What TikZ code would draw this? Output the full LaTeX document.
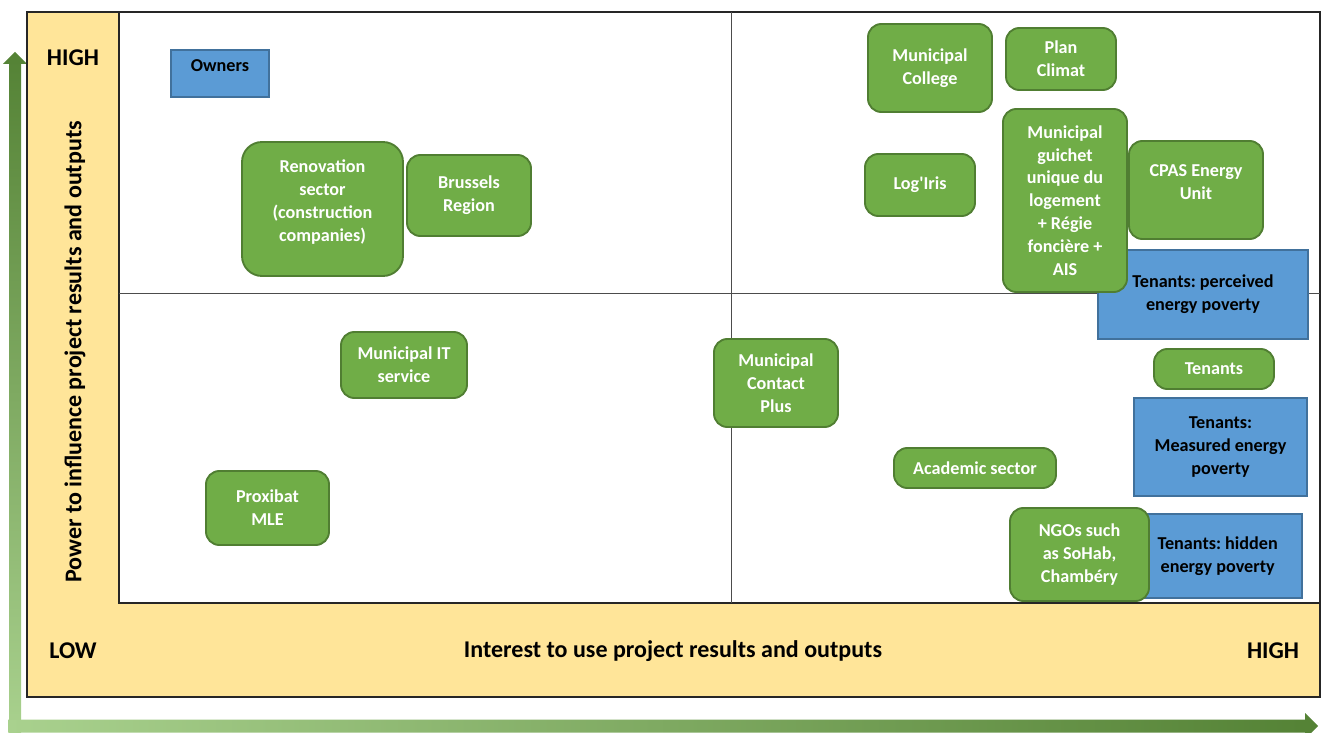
\documentclass[tikz,border=0pt]{standalone}
\usepackage{fontspec}
\setmainfont{Carlito}
\usepackage{xcolor}
\usetikzlibrary{positioning}
\frenchspacing

\definecolor{stakegreen}{HTML}{70AD47}
\definecolor{stakegreenline}{HTML}{507E32}
\definecolor{stakeblue}{HTML}{5B9BD5}
\definecolor{stakeblueline}{HTML}{41719C}
\definecolor{axisyellow}{HTML}{FFE599}
\definecolor{arrowlight}{HTML}{A9D18E}
\definecolor{arrowdark}{HTML}{548235}

\begin{document}
\begin{tikzpicture}[x=0.03cm, y=-0.03cm,
	greenbox/.style={draw=stakegreenline, line width=1.6pt, fill=stakegreen, rounded corners=0.4cm,
		text=white, align=center, inner sep=0pt, font=\fontsize{15.5}{19.5}\selectfont\bfseries},
	bluebox/.style={draw=stakeblueline, line width=1.4pt, fill=stakeblue,
		text=black, align=center, inner sep=0pt, font=\fontsize{15.5}{19.5}\selectfont\bfseries},
	axistext/.style={font=\fontsize{20.5}{24}\selectfont\bfseries, inner sep=0pt}]
		\useasboundingbox (0,0) rectangle (1335,733);
		
		% arrows
		\shade[top color=arrowdark, bottom color=arrowlight]
			(9,733) -- (9,64) -- (3,64) -- (15,52) -- (27,64) -- (21,64) -- (21,733) -- cycle;
		\shade[left color=arrowlight, right color=arrowdark]
			(8,719.5) -- (1305,719.5) -- (1305,713) -- (1318,726) -- (1305,739) -- (1305,732.5) -- (8,732.5) -- cycle;
		
		% axis frame
		\draw[fill=axisyellow, line width=0.9pt, draw=black!85] (27,12) rectangle (1320,697);
		\draw[fill=white, line width=0.9pt, draw=black!85] (119,12) rectangle (1320,603);
		\draw[black!70, line width=0.6pt] (731,12) -- (731,603);
		\draw[black!70, line width=0.6pt] (119,293) -- (1320,293);
		
		\node[axistext] (yhigh) at (73,58) {HIGH};
		\node[axistext] (xlow) at (73,651) {LOW};
		\node[axistext] (xhigh) at (1273,651) {HIGH};
		\node[axistext] (xlabel) at (673,651) {Interest to use project results and outputs};
		\node[axistext, rotate=90] (ylabel) at (75,352) {Power to influence project results and outputs};
		
		% low interest side
		\node[bluebox, text depth=13pt, minimum width=2.94cm, minimum height=1.41cm] (owners) at (220,73.5) {Owners};
		\node[greenbox, text depth=14pt, rounded corners=0.6cm, minimum width=4.83cm, minimum height=4.02cm] (renovation) at (322.5,209) {Renovation\\sector\\(construction\\companies)};
		\node[greenbox, minimum width=3.72cm, minimum height=2.43cm] (brussels) at (469,195.5) {Brussels\\Region};
		\node[greenbox, minimum width=3.78cm, minimum height=1.98cm] (itservice) at (404,365) {Municipal IT\\service};
		\node[greenbox, minimum width=3.69cm, minimum height=2.22cm] (proxibat) at (267.5,508) {Proxibat\\MLE};
		
		% high interest side
		\node[greenbox, minimum width=3.72cm, minimum height=2.64cm] (contactplus) at (776,383) {Municipal\\Contact\\Plus};
		\node[greenbox, minimum width=3.72cm, minimum height=2.64cm] (college) at (930,68) {Municipal\\College};
		\node[greenbox, minimum width=3.3cm, minimum height=1.86cm] (planclimat) at (1061,59) {Plan\\Climat};
		\node[greenbox, minimum width=3.3cm, minimum height=1.86cm] (logiris) at (920,185) {Log\textquotesingle Iris};
		\node[bluebox, minimum width=6.3cm, minimum height=2.67cm] (perceived) at (1203,294.5) {Tenants: perceived\\energy poverty};
		\node[greenbox, minimum width=3.72cm, minimum height=5.49cm] (guichet) at (1065,200.5) {Municipal\\guichet\\unique du\\logement\\+ Régie\\foncière +\\AIS};
		\node[greenbox, text depth=14pt, minimum width=4.02cm, minimum height=2.94cm] (cpas) at (1196,190) {CPAS Energy\\Unit};
		\node[greenbox, minimum width=3.6cm, minimum height=1.2cm] (tenants) at (1214,369) {Tenants};
		\node[bluebox, minimum width=5.19cm, minimum height=2.94cm] (measured) at (1220.5,447) {Tenants:\\Measured energy\\poverty};
		\node[greenbox, minimum width=4.86cm, minimum height=1.2cm] (academic) at (975,468) {Academic sector};
		\node[bluebox, minimum width=4.86cm, minimum height=2.52cm] (hidden) at (1221,556) {\hspace*{-0.2cm}Tenants: hidden\\\hspace*{-0.2cm}energy poverty};
		\node[greenbox, minimum width=4.17cm, minimum height=2.79cm] (ngos) at (1079.5,554.5) {NGOs such\\as SoHab,\\Chambéry};
	\end{tikzpicture}
\end{document}
